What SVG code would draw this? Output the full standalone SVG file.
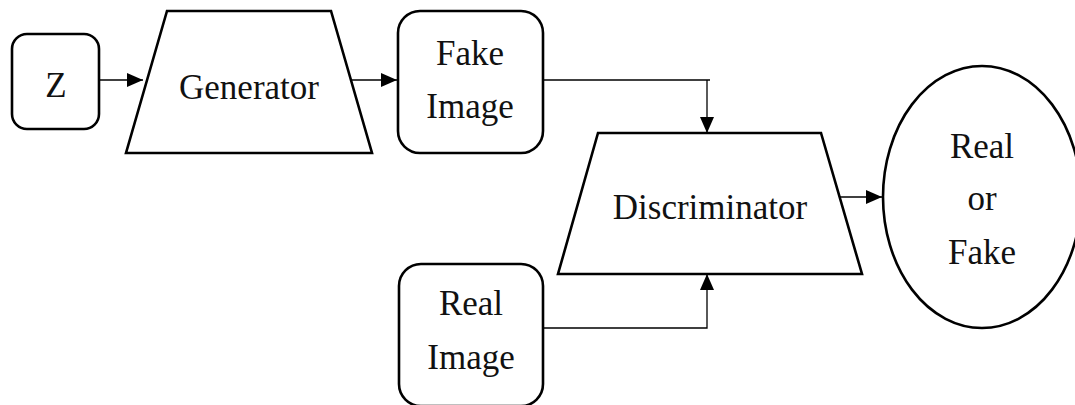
<svg xmlns="http://www.w3.org/2000/svg" width="1075" height="405" viewBox="0 0 1075 405">
<style>
.shape{fill:#fff;stroke:#000;stroke-width:2.6}
.line{fill:none;stroke:#000;stroke-width:1.3}
</style>
<defs>
<marker id="ah" markerUnits="userSpaceOnUse" markerWidth="17" markerHeight="14" refX="16" refY="7" orient="auto">
<path d="M0,0 L16,7 L0,14 Z" fill="#000"/>
</marker>
</defs>
<rect width="1075" height="405" fill="#fff"/>
<g id="connectors">
<line class="line" x1="99" y1="80" x2="143" y2="80" marker-end="url(#ah)"/>
<line class="line" x1="348" y1="80" x2="397" y2="80" marker-end="url(#ah)"/>
<polyline class="line" points="543,80 710,80"/>
<line class="line" x1="707" y1="80" x2="707" y2="133" marker-end="url(#ah)"/>
<polyline class="line" points="543,328 707,328 707,274" marker-end="url(#ah)"/>
<line class="line" x1="840" y1="197" x2="882" y2="197" marker-end="url(#ah)"/>
</g>
<g font-family="Liberation Serif, Times New Roman, serif" font-size="35" fill="#111" text-anchor="middle">
<g id="z">
<rect class="shape" x="12" y="34" width="87" height="95" rx="15"/>
<text x="56" y="97">Z</text>
</g>
<g id="generator">
<polygon class="shape" points="167,11 331,11 372,153 126,153"/>
<text x="249" y="99">Generator</text>
</g>
<g id="fake-image">
<rect class="shape" x="398" y="11" width="145" height="142" rx="22"/>
<text x="470" y="65">Fake</text>
<text x="470" y="118">Image</text>
</g>
<g id="discriminator">
<polygon class="shape" points="598,133 821,133 862,274 558,274"/>
<text x="710" y="219">Discriminator</text>
</g>
<g id="real-image">
<rect class="shape" x="399" y="264" width="144" height="142" rx="22"/>
<text x="471" y="315">Real</text>
<text x="471" y="369">Image</text>
</g>
<g id="output">
<ellipse class="shape" cx="982" cy="197" rx="99" ry="131"/>
<text x="982" y="158">Real</text>
<text x="982" y="210">or</text>
<text x="982" y="264">Fake</text>
</g>
</g>
</svg>
